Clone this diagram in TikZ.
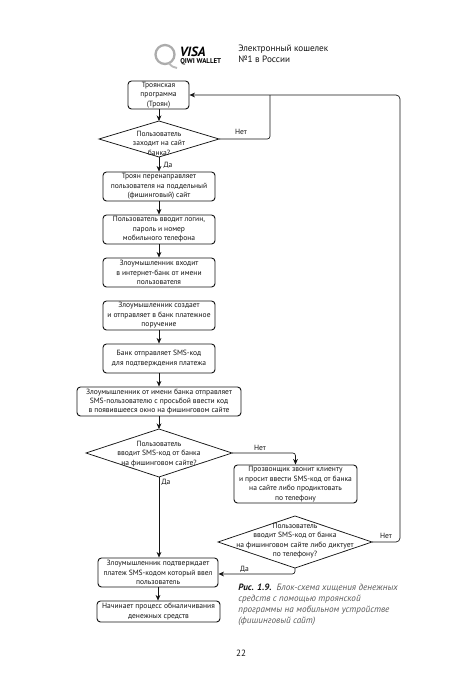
\documentclass[tikz,border=0pt]{standalone}
\usepackage{fontspec}
\setmainfont{PT Sans}
\usetikzlibrary{arrows.meta}
\definecolor{ink}{gray}{0.08}
\tikzset{
  x=0.75pt,y=-0.75pt,
  every node/.style={text=ink,font=\fontsize{5.65}{7.1}\selectfont,inner sep=0pt,align=center},
  bx/.style={draw=ink,line width=0.7pt,rounded corners=2.6pt,anchor=center},
  dmline/.style={draw=ink,line width=0.55pt,line join=miter},
  lnk/.style={draw=ink,line width=0.5pt,-{Stealth[length=4.2pt,width=3.6pt]}},
}
\newcommand{\bxn}[6]{% name, x1, y1, x2, y2, text
  \node[bx,minimum width={(#4-#2)*0.75pt},minimum height={(#5-#3)*0.75pt}] (#1) at ({(#2+#4)/2},{(#3+#5)/2}) {#6};}
\newcommand{\dmn}[7]{% name, cx, cy, halfw, halfh, text y, text
  \draw[dmline] ({#2-#4},#3) -- (#2,{#3-#5}) -- ({#2+#4},#3) -- (#2,{#3+#5}) -- cycle;
  \coordinate (#1L) at ({#2-#4},#3);\coordinate (#1R) at ({#2+#4},#3);
  \coordinate (#1T) at (#2,{#3-#5});\coordinate (#1B) at (#2,{#3+#5});
  \node (#1txt) at (#2,#6) {#7};}
\begin{document}
\begin{tikzpicture}
\useasboundingbox (0,0) rectangle (464,700);
\fill[white] (0,0) rectangle (464,700);
% logo
\draw[gray!65,line width=1.7pt] (165,54.5) circle[radius=9.5];
\draw[gray!55,line width=1.4pt] (169,63) .. controls (171,66) and (174,68) .. (177,68);
\node[anchor=west,font=\fontsize{10}{10}\selectfont\bfseries\itshape,text=black] (visa) at (179.5,51.5) {VISA};
\node[anchor=west,font=\fontsize{5.2}{5.5}\selectfont\bfseries,text=black] (qiwi) at (180,61.5) {QIWI WALLET};
\node[anchor=north west,align=left,font=\fontsize{6.9}{8.2}\selectfont] (head) at (238,44.5) {Электронный кошелек\\№1 в России};
% boxes
\bxn{b1}{128}{81}{189}{109}{Троянская\\программа\\(Троян)}
\dmn{d1}{159}{139}{60}{18}{143}{Пользователь\\заходит на сайт\\банка?}
\bxn{b2}{103}{172}{215}{201}{Троян перенаправляет\\пользователя на поддельный\\(фишинговый) сайт}
\bxn{b3}{103}{215}{215}{244}{Пользователь вводит логин,\\пароль и номер\\мобильного телефона}
\bxn{b4}{103}{258}{215}{287}{Злоумышленник входит\\в интернет-банк от имени\\пользователя}
\bxn{b5}{103}{301}{215}{330}{Злоумышленник создает\\и отправляет в банк платежное\\поручение}
\bxn{b6}{103}{344}{215}{373}{Банк отправляет SMS-код\\для подтверждения платежа}
\bxn{b7}{77}{387}{241}{416}{Злоумышленник от имени банка отправляет\\SMS-пользователю с просьбой ввести код\\в появившееся окно на фишинговом сайте}
\dmn{d2}{159}{453}{73}{24}{454}{Пользователь\\вводит SMS-код от банка\\на фишинговом сайте?}
\bxn{b8}{234}{465}{357}{503}{Прозвонщик звонит клиенту\\и просит ввести SMS-код от банка\\на сайте либо продиктовать\\по телефону}
\dmn{d3}{295}{542}{77}{26}{540.5}{Пользователь\\вводит SMS-код от банка\\на фишинговом сайте либо диктует\\по телефону?}
\bxn{b9}{98}{558}{218}{587}{Злоумышленник подтверждает\\платеж SMS-кодом который ввел\\пользователь}
\bxn{b10}{97}{601}{220}{622}{Начинает процесс обналичивания\\денежных средств}
% connectors
\coordinate (bk) at (b1.east);
\coordinate (y574) at (295,574);
\draw[lnk] (b1.south -| d1T) -- (d1T);
\draw[lnk] (d1B) -- (d1B |- b2.north);
\draw[lnk] (b2.south) -- (b3.north);
\draw[lnk] (b3.south) -- (b4.north);
\draw[lnk] (b5.south) -- (b6.north);
\draw[lnk] (b6.south) -- (b7.north -| b6.south);
\draw[lnk] (b7.south -| d2T) -- (d2T);
\draw[lnk] (d2B) -- (d2B |- b9.north);
\draw[lnk] (b9.south) -- (b9.south |- b10.north);
\draw[lnk,rounded corners=2pt] (d2R) -- (d2R -| b8.north) -- (b8.north);
\draw[draw=ink,line width=0.5pt,rounded corners=2pt] (d1R) -- (270,139) -- (270,95);
\draw[lnk,rounded corners=3pt] (d3R) -- (400,542) -- (400,95) -- (bk);
\draw[lnk,rounded corners=2pt] (d3B) -- (y574) -- (b9.east |- y574);
% labels
\node (l1) at (241,131.5) {Нет};
\node (l2) at (168,165) {Да};
\node (l3) at (260,448) {Нет};
\node (l4) at (166,482.5) {Да};
\node (l5) at (386,536) {Нет};
\node (l6) at (244.5,569) {Да};
% caption
\node[anchor=north west,align=left,font=\fontsize{6.85}{8.25}\selectfont\itshape,text=ink!70] (cap) at (238,583.5) {{\bfseries\color{ink}Рис. 1.9.}\ \ Блок-схема хищения денежных\\средств с помощью троянской\\программы на мобильном устройстве\\(фишинговый сайт)};
\node[font=\fontsize{6.8}{8}\selectfont] (pg) at (241,653.5) {22};
\end{tikzpicture}
\end{document}
